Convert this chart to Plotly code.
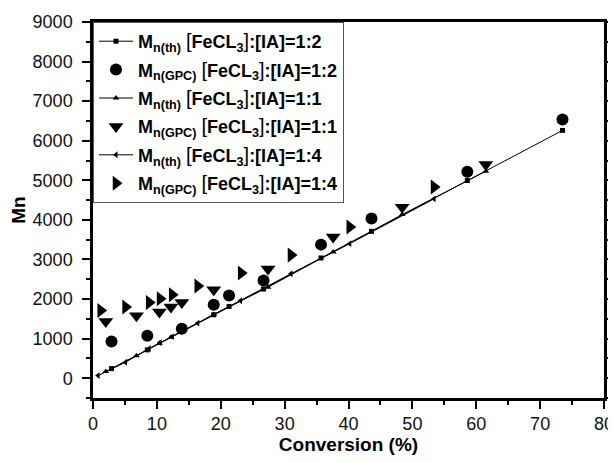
import plotly.graph_objects as go

# Theoretical Mn (lines with small markers)
x_th_12 = [2.9, 8.5, 13.9, 18.9, 21.3, 26.7, 35.7, 43.6, 58.6, 73.5]
y_th_12 = [243, 716, 1185, 1603, 1813, 2253, 3038, 3711, 4995, 6261]
x_th_11 = [2.0, 6.8, 10.4, 12.2, 13.9, 18.9, 27.4, 37.6, 48.4, 61.5]
y_th_11 = [170, 565, 886, 1038, 1185, 1610, 2300, 3190, 4134, 5230]
x_th_14 = [0.8, 5.1, 8.8, 10.5, 12.4, 16.4, 23.1, 31.0, 40.2, 53.4]
y_th_14 = [66, 405, 750, 895, 1050, 1392, 1957, 2640, 3400, 4532]

# GPC Mn (large markers)
x_gpc_12 = [2.9, 8.5, 13.9, 18.9, 21.3, 26.7, 35.7, 43.6, 58.6, 73.5]
y_gpc_12 = [927, 1071, 1248, 1856, 2092, 2471, 3375, 4033, 5215, 6539]
x_gpc_11 = [2.0, 6.8, 10.4, 12.2, 13.9, 18.9, 27.4, 37.6, 48.4, 61.5]
y_gpc_11 = [1433, 1577, 1671, 1797, 1914, 2235, 2759, 3570, 4320, 5400]
x_gpc_14 = [1.2, 5.1, 8.8, 10.5, 12.4, 16.4, 23.2, 31.0, 40.2, 53.4]
y_gpc_14 = [1711, 1797, 1914, 2008, 2109, 2330, 2660, 3110, 3818, 4830]

def lab(kind, ratio):
    return ("<b>M<sub>n(%s)</sub></b> <span style='font-size:20px'>[</span><b>FeCL<sub>3</sub></b>"
            "<span style='font-size:20px'>]</span><b>:[IA]=%s</b>" % (kind, ratio))

fig = go.Figure()
fig.add_trace(go.Scatter(x=x_th_12, y=y_th_12, mode="lines+markers", name=lab("th", "1:2"),
                         line=dict(color="black", width=1), marker=dict(symbol="square", size=5, color="black"),
                         legendgroup="a"))
fig.add_trace(go.Scatter(x=x_gpc_12, y=y_gpc_12, mode="markers", name=lab("GPC", "1:2"),
                         marker=dict(symbol="circle", size=12, color="black"), legendgroup="b"))
fig.add_trace(go.Scatter(x=x_th_11, y=y_th_11, mode="lines+markers", name=lab("th", "1:1"),
                         line=dict(color="black", width=1), marker=dict(symbol="triangle-up", size=6, color="black"),
                         legendgroup="c"))
fig.add_trace(go.Scatter(x=x_gpc_11, y=y_gpc_11, mode="markers", name=lab("GPC", "1:1"),
                         marker=dict(symbol="triangle-down", size=13, color="black"), legendgroup="d"))
fig.add_trace(go.Scatter(x=x_th_14, y=y_th_14, mode="lines+markers", name=lab("th", "1:4"),
                         line=dict(color="black", width=1), marker=dict(symbol="triangle-left", size=6, color="black"),
                         legendgroup="e"))
fig.add_trace(go.Scatter(x=x_gpc_14, y=y_gpc_14, mode="markers", name=lab("GPC", "1:4"),
                         marker=dict(symbol="triangle-right", size=13, color="black"), legendgroup="f"))

fig.update_layout(
    width=608, height=455,
    margin=dict(l=85, r=12, t=14, b=65),
    paper_bgcolor="white", plot_bgcolor="white",
    font=dict(family="Liberation Sans, Arial, sans-serif", size=18, color="black"),
    legend=dict(x=0, y=1, xanchor="left", yanchor="top", bgcolor="white",
                bordercolor="#555", borderwidth=1, font=dict(size=18, color="black"),
                tracegroupgap=2, itemwidth=34),
    xaxis=dict(range=[0, 80], dtick=10, tick0=0, showgrid=False, zeroline=False,
               showline=True, linecolor="black", linewidth=2.5, mirror=True,
               ticks="outside", ticklen=8, tickwidth=1.5, tickcolor="black",
               tickfont=dict(size=18, color="#111"), automargin=False,
               ticklabeloverflow="allow",
               minor=dict(dtick=5, ticks="outside", ticklen=4, tickwidth=1.5, tickcolor="black"),
               title=dict(text="<b>Conversion (%)</b>", font=dict(size=19), standoff=3)),
    yaxis=dict(range=[-500, 9000], dtick=1000, tick0=0, showgrid=False, zeroline=False,
               showline=True, linecolor="black", linewidth=2.5, mirror="ticks",
               ticks="outside", ticklen=8, tickwidth=1.5, tickcolor="black",
               tickfont=dict(size=18, color="#111"), ticklabelstandoff=6, automargin=False,
               minor=dict(dtick=500, ticks="outside", ticklen=4, tickwidth=1.5, tickcolor="black"),
               title=dict(text="<b>Mn</b>", font=dict(size=19), standoff=13)),
)

fig.write_html("out.html")
